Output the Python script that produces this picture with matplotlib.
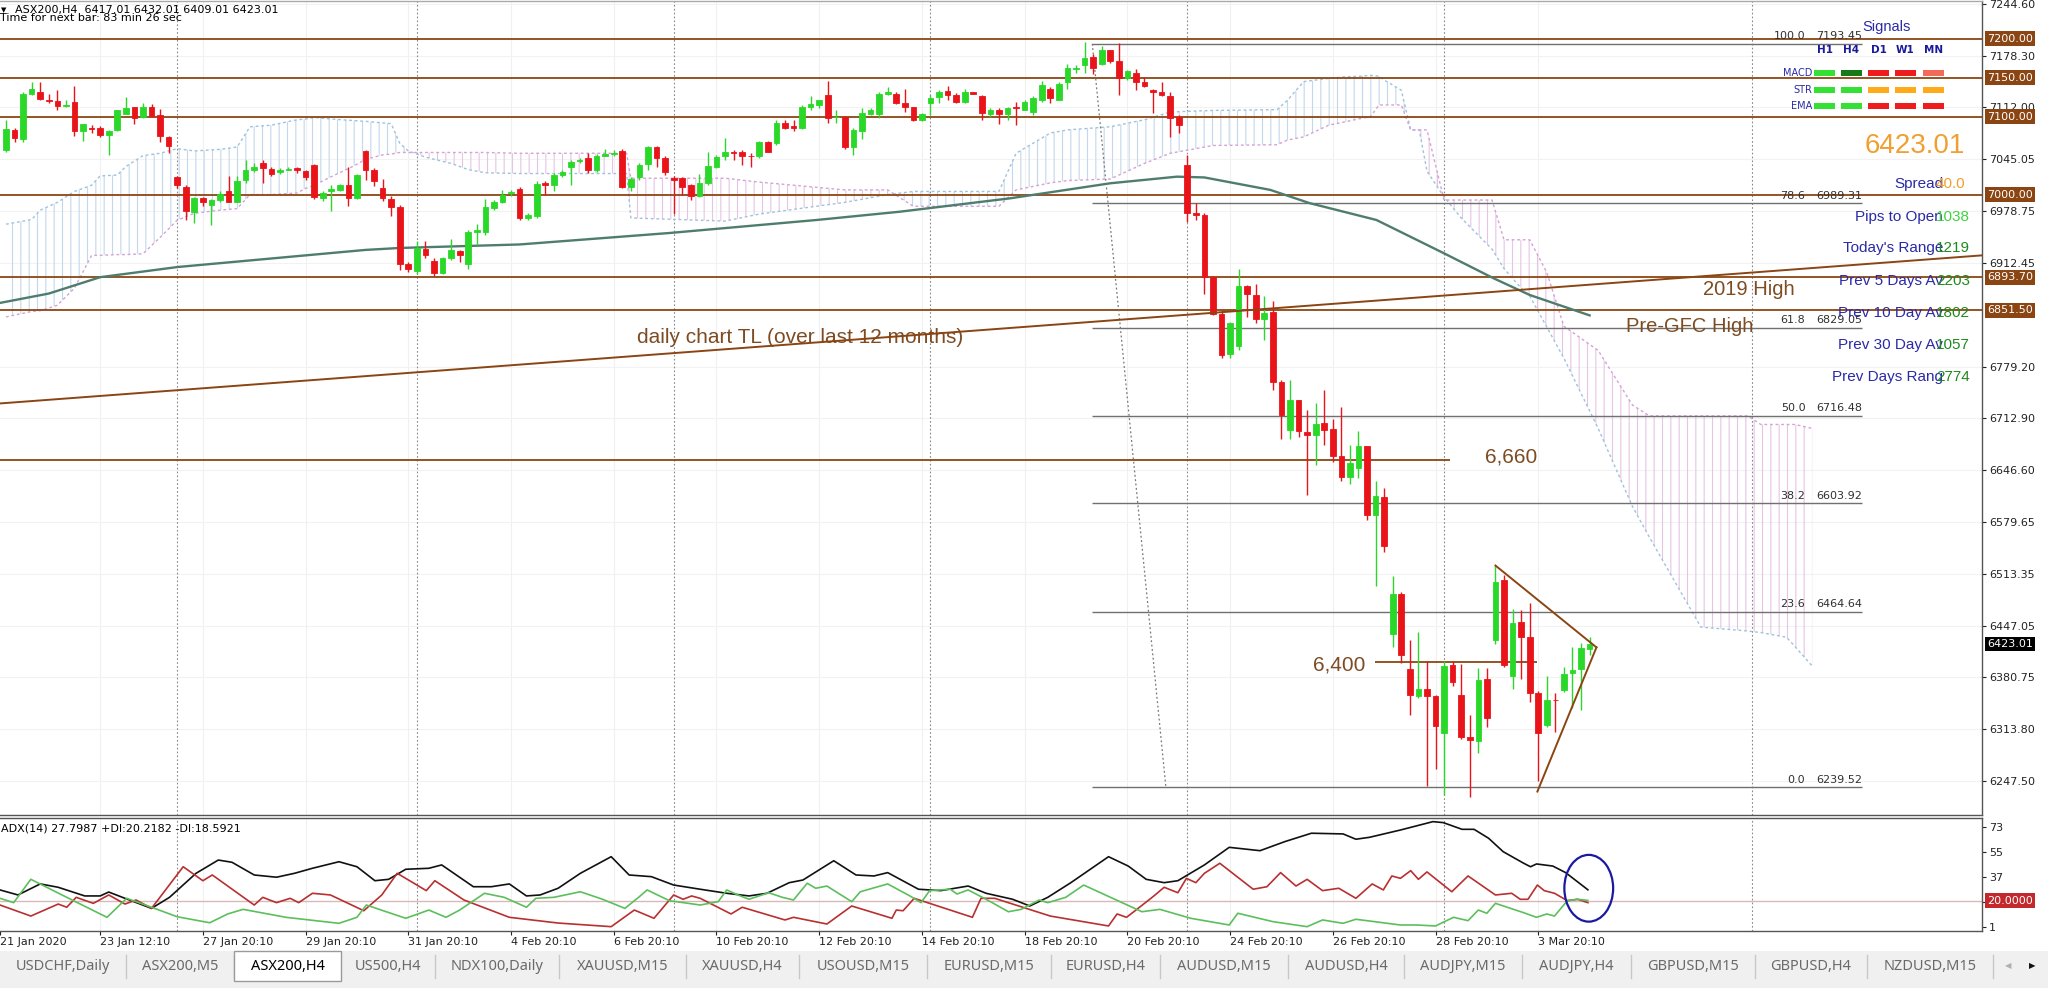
import matplotlib.pyplot as plt
import matplotlib.transforms as mtransforms
from matplotlib.patches import Ellipse, Rectangle
import numpy as np

plt.rcParams['font.family'] = ['DejaVu Sans']
plt.rcParams['hatch.linewidth'] = 0.8

# ASX200 H4 candles, bar 0 = 21 Jan 2020
opens = [7057, 7083, 7071, 7129, 7132, 7122, 7120, 7114, 7119, 7082,
         7085, 7085, 7076, 7083, 7104, 7112, 7099, 7113, 7102, 7074,
         7022, 7010, 6978, 6995, 6987, 6993, 7005, 6991, 7019, 7031,
         7040, 7033, 7029, 7032, 7034, 7030, 7038, 6996, 7004, 7006,
         7012, 6996, 7056, 7031, 7008, 6994, 6984, 6911, 6902, 6930,
         6915, 6899, 6918, 6928, 6911, 6952, 6952, 6983, 6991, 7002,
         7007, 6970, 6973, 7015, 7012, 7025, 7036, 7043, 7047, 7032,
         7050, 7052, 7056, 7010, 7022, 7039, 7061, 7047, 7021, 7021,
         7012, 6998, 7015, 7036, 7049, 7054, 7055, 7050, 7049, 7068,
         7066, 7092, 7088, 7085, 7113, 7115, 7128, 7099, 7100, 7061,
         7082, 7104, 7104, 7129, 7129, 7118, 7112, 7096, 7117, 7125,
         7133, 7128, 7119, 7131, 7127, 7104, 7109, 7104, 7112, 7109,
         7106, 7121, 7135, 7122, 7144, 7161, 7166, 7176, 7168, 7185,
         7172, 7149, 7156, 7145, 7134, 7131, 7127, 7099, 7038, 6977,
         6974, 6894, 6847, 6796, 6806, 6883, 6871, 6840, 6849, 6759,
         6698, 6736, 6695, 6692, 6707, 6699, 6664, 6637, 6649, 6677,
         6589, 6612, 6436, 6488, 6391, 6357, 6365, 6356, 6309, 6396,
         6358, 6304, 6299, 6378, 6429, 6506, 6382, 6451, 6432, 6361,
         6319, 6352, 6364, 6386, 6391, 6417.01]
highs = [7096, 7085, 7131, 7145, 7145, 7129, 7134, 7121, 7139, 7091,
         7089, 7088, 7083, 7109, 7125, 7113, 7117, 7116, 7110, 7075,
         7024, 7012, 6997, 6997, 6994, 7004, 7024, 7024, 7044, 7040,
         7044, 7035, 7034, 7035, 7036, 7032, 7039, 7004, 7012, 7014,
         7035, 7027, 7057, 7034, 7020, 6998, 6987, 6914, 6941, 6940,
         6918, 6920, 6943, 6929, 6954, 6962, 6994, 6993, 7006, 7006,
         7010, 6976, 7017, 7017, 7028, 7032, 7044, 7047, 7053, 7052,
         7059, 7057, 7059, 7022, 7041, 7062, 7062, 7049, 7024, 7023,
         7014, 7026, 7055, 7051, 7072, 7057, 7057, 7053, 7069, 7069,
         7096, 7096, 7096, 7115, 7126, 7121, 7146, 7108, 7101, 7085,
         7111, 7111, 7132, 7138, 7132, 7136, 7113, 7105, 7128, 7134,
         7139, 7130, 7136, 7131, 7128, 7111, 7111, 7113, 7119, 7121,
         7126, 7146, 7138, 7145, 7168, 7166, 7196, 7180, 7191, 7186,
         7194, 7160, 7161, 7151, 7136, 7144, 7132, 7102, 7051, 6989,
         6976, 6895, 6852, 6836, 6904, 6884, 6885, 6870, 6863, 6762,
         6762, 6737, 6723, 6733, 6749, 6712, 6728, 6679, 6697, 6678,
         6632, 6623, 6510, 6490, 6429, 6439, 6402, 6358, 6401, 6401,
         6398, 6332, 6392, 6392, 6525, 6512, 6468, 6467, 6476, 6363,
         6382, 6360, 6394, 6420, 6424, 6432.01]
lows = [7055, 7067, 7068, 7128, 7121, 7118, 7109, 7113, 7075, 7069,
        7079, 7074, 7051, 7081, 7103, 7090, 7098, 7100, 7068, 7053,
        7009, 6968, 6964, 6985, 6961, 6991, 6990, 6990, 7015, 7029,
        7015, 7024, 7026, 7031, 7028, 7019, 6994, 6992, 6979, 7004,
        6985, 6994, 7019, 7011, 6992, 6973, 6903, 6901, 6898, 6918,
        6895, 6898, 6916, 6914, 6904, 6935, 6948, 6980, 6989, 6998,
        6967, 6968, 6970, 6999, 7004, 7023, 7012, 7040, 7028, 7029,
        7049, 7049, 7008, 7004, 7019, 7032, 7036, 7025, 6975, 6999,
        6993, 6997, 7012, 7034, 7044, 7044, 7038, 7035, 7047, 7054,
        7064, 7084, 7082, 7084, 7109, 7111, 7092, 7092, 7059, 7051,
        7071, 7102, 7098, 7128, 7116, 7106, 7095, 7095, 7102, 7117,
        7121, 7118, 7118, 7129, 7096, 7100, 7091, 7096, 7089, 7108,
        7102, 7119, 7118, 7121, 7136, 7156, 7156, 7155, 7166, 7169,
        7128, 7147, 7134, 7138, 7105, 7126, 7074, 7079, 6965, 6967,
        6873, 6846, 6790, 6790, 6801, 6843, 6835, 6813, 6749, 6686,
        6687, 6689, 6615, 6653, 6679, 6657, 6632, 6629, 6636, 6583,
        6498, 6542, 6420, 6399, 6332, 6354, 6241, 6263, 6230, 6369,
        6302, 6227, 6283, 6317, 6423, 6394, 6365, 6379, 6349, 6247,
        6317, 6311, 6362, 6341, 6339, 6409.01]
closes = [7084, 7072, 7129, 7135, 7123, 7120, 7114, 7115, 7081, 7091,
          7084, 7076, 7082, 7109, 7111, 7098, 7112, 7101, 7075, 7062,
          7012, 6979, 6995, 6991, 6993, 7001, 6991, 7018, 7032, 7036,
          7034, 7027, 7032, 7033, 7031, 7023, 6997, 7002, 7007, 7012,
          6996, 7025, 7031, 7018, 6995, 6984, 6911, 6905, 6931, 6923,
          6899, 6918, 6929, 6923, 6952, 6954, 6984, 6990, 7000, 7003,
          6970, 6974, 7013, 7012, 7025, 7029, 7042, 7045, 7032, 7050,
          7052, 7053, 7010, 7020, 7038, 7061, 7047, 7029, 7019, 7010,
          6998, 7015, 7037, 7048, 7055, 7053, 7049, 7049, 7068, 7055,
          7092, 7085, 7086, 7113, 7116, 7121, 7098, 7100, 7061, 7083,
          7105, 7109, 7129, 7132, 7118, 7113, 7096, 7104, 7124, 7132,
          7128, 7119, 7131, 7129, 7105, 7109, 7104, 7111, 7111, 7119,
          7124, 7141, 7124, 7142, 7162, 7162, 7175, 7162, 7185, 7171,
          7149, 7158, 7145, 7139, 7131, 7128, 7098, 7089, 6977, 6974,
          6894, 6847, 6794, 6835, 6883, 6873, 6840, 6848, 6759, 6717,
          6736, 6696, 6692, 6706, 6698, 6664, 6637, 6656, 6677, 6589,
          6613, 6549, 6488, 6409, 6358, 6365, 6356, 6318, 6395, 6375,
          6304, 6300, 6377, 6328, 6503, 6396, 6450, 6432, 6360, 6309,
          6351, 6351, 6385, 6390, 6418, 6423.01]

# Ichimoku cloud, both spans read at the same bars
cloud_bar = [0, 3, 4, 6, 8, 10, 11, 13, 14, 16, 18, 20, 22, 25, 27, 28.5, 31,
             34, 35, 36, 38, 40.5, 42, 44, 45, 46, 47, 49, 52, 54, 56, 60, 72.5,
             73, 84, 88, 98, 103, 106, 116, 118, 122, 124, 129, 133, 136, 141,
             148.5, 149.7, 151.6, 154.5, 156.3, 158.4, 159.4, 160.4, 161, 163,
             164.1, 165.1, 166, 168, 170, 173.6, 175, 177, 178, 180, 182, 186,
             190, 192, 198, 203.5, 205, 208, 209, 211]
span_a = [6962, 6968, 6980, 6990, 7004, 7012, 7024, 7025, 7036, 7050, 7053,
          7059, 7056, 7058, 7061, 7087, 7089, 7096, 7097, 7099, 7097, 7095,
          7094, 7092, 7091, 7066, 7056, 7048, 7040, 7032, 7028, 7027, 7027,
          6970, 6966, 6975, 6990, 7000, 7004, 7004, 7053, 7079, 7083, 7087,
          7096, 7106, 7108, 7109, 7121, 7145, 7149, 7151, 7152, 7153, 7152,
          7147, 7134, 7083, 7083, 7030, 6997, 6970, 6930, 6905, 6880, 6870,
          6830, 6790, 6700, 6600, 6560, 6445, 6440, 6438, 6432, 6420, 6395]
span_b = [6843, 6850, 6851, 6858, 6880, 6922, 6922, 6923, 6923, 6924, 6945,
          6967, 6976, 6980, 6982, 7000, 7000, 7002, 7008, 7012, 7023, 7036,
          7045, 7051, 7052, 7054, 7054, 7054, 7054, 7054, 7054, 7053, 7053,
          7021, 7021, 7016, 7006, 7006, 6985, 6985, 7006, 7015, 7018, 7020,
          7040, 7053, 7063, 7064, 7070, 7074, 7089, 7093, 7098, 7100, 7115,
          7115, 7115, 7083, 7083, 7083, 6993, 6993, 6993, 6942, 6942, 6942,
          6900, 6831, 6800, 6730, 6716, 6716, 6716, 6705, 6705, 6705, 6700]

ma200 = [(-0.7, 6861), (5, 6873), (11, 6894), (20, 6907), (30, 6917),
         (42, 6929), (46, 6931.5), (60, 6936), (77.5, 6950.7), (94.7, 6967.4),
         (104.4, 6978), (117.3, 6995.2), (129, 7014.5), (136.8, 7023),
         (140, 7022), (147.7, 7006), (152.3, 6989), (160.1, 6967.4),
         (168, 6924.6), (173.8, 6892.5), (178, 6871.2), (185, 6845)]

levels = [7200.00, 7150.00, 7100.00, 7000.00, 6893.70, 6851.50]
fib_pct = ['100.0', '78.6', '61.8', '50.0', '38.2', '23.6', '0.0']
fib_price = [7193.45, 6989.31, 6829.05, 6716.48, 6603.92, 6464.64, 6239.52]
trend_line = [(-0.7, 6732), (230.84, 6922)]
wedge_upper = [(174, 6524), (185.8, 6419)]
wedge_lower = [(178.9, 6234), (185.8, 6419)]
fib_diag = [(126.9, 7193.45), (135.5, 6239.52)]

adx = [(-0.7, 27.7), (1.4, 24.1), (4.0, 32.0), (6.1, 29.6), (9.2, 23.4),
       (11.0, 23.4), (12.0, 26.2), (13.9, 21.7), (17.0, 14.5), (19.1, 22.4),
       (22.2, 39.6), (24.8, 49.1), (26.4, 47.5), (29.0, 38.4), (31.6, 36.8),
       (33.7, 39.6), (35.8, 43.2), (38.9, 47.9), (41.0, 44.3), (43.1, 34.3),
       (44.7, 35.3), (46.7, 42.5), (49.4, 43.2), (50.9, 45.6), (54.6, 30.0),
       (56.7, 30.0), (58.8, 32.0), (60.8, 23.4), (62.4, 24.1), (64.5, 28.9),
       (67.1, 39.6), (70.7, 51.5), (72.8, 38.4), (75.4, 37.2), (78.0, 31.2),
       (81.1, 28.2), (84.2, 25.3), (86.8, 23.4), (88.9, 25.3), (91.5, 32.9),
       (93.1, 34.8), (96.7, 48.6), (99.3, 38.4), (101.4, 37.7), (103.0, 40.1),
       (106.6, 28.2), (109.2, 27.2), (112.4, 30.5), (114.5, 25.3), (117.6, 21.0),
       (119.6, 16.2), (121.7, 22.4), (124.4, 32.9), (128.8, 51.5), (131.1, 44.8),
       (133.2, 35.3), (135.3, 32.9), (136.9, 34.3), (140.0, 45.6), (142.9, 58.2),
       (146.5, 55.8), (149.4, 62.3), (152.5, 68.3), (156.2, 67.8), (157.7, 64.0),
       (159.3, 65.4), (162.9, 70.6), (166.7, 76.6), (167.9, 75.9), (170.1, 71.1),
       (171.5, 71.1), (173.2, 64.7), (174.9, 55.1), (177.3, 46.8), (178.1, 44.3),
       (178.8, 46.3), (180.7, 44.8), (182.2, 40.1), (184.8, 27.8)]
minus_di = [(-0.7, 16.9), (2.9, 9.0), (6.1, 17.6), (7.1, 15.3), (8.2, 22.4),
            (10.2, 18.1), (12.0, 24.1), (13.9, 17.6), (15.2, 20.5), (17.0, 14.5),
            (20.7, 44.3), (23.0, 34.3), (24.1, 38.4), (29.0, 16.9), (30.0, 22.4),
            (31.6, 18.6), (33.2, 21.7), (34.2, 18.6), (35.8, 25.3), (37.9, 24.1),
            (41.8, 12.8), (43.9, 24.1), (45.7, 39.6), (49.1, 27.2), (50.1, 34.3),
            (53.5, 20.5), (58.8, 8.1), (64.5, 4.0), (70.7, 1.4), (73.4, 13.3),
            (75.7, 7.4), (78.0, 24.1), (79.1, 21.0), (80.1, 23.4), (81.1, 21.7),
            (84.7, 10.5), (86.0, 15.3), (91.0, 6.2), (92.0, 8.1), (95.9, 3.3),
            (98.8, 16.2), (103.5, 7.4), (104.0, 13.3), (104.8, 12.8), (106.1, 21.7),
            (112.9, 8.1), (113.9, 21.7), (115.5, 21.7), (122.0, 9.0), (128.8, 1.9),
            (129.8, 10.5), (130.9, 8.1), (131.9, 12.8), (134.0, 22.9), (135.3, 29.6),
            (136.9, 25.7), (137.9, 36.0), (139.0, 32.9), (140.0, 39.6), (141.8, 46.8),
            (145.7, 28.2), (147.3, 30.0), (148.9, 40.1), (150.7, 30.5), (152.0, 35.3),
            (153.8, 27.2), (155.7, 28.9), (157.7, 21.7), (159.6, 32.0), (160.9, 27.7),
            (161.9, 37.7), (162.9, 36.0), (164.1, 41.5), (165.0, 35.3), (166.0, 40.6),
            (168.9, 26.4), (170.8, 37.7), (174.0, 24.1), (175.9, 25.3), (176.9, 21.0),
            (177.8, 21.0), (178.9, 31.2), (179.7, 27.2), (180.9, 25.3), (182.4, 20.0),
            (183.6, 21.0), (184.8, 18.6)]
plus_di = [(-0.7, 21.7), (0.9, 18.6), (2.9, 35.3), (7.1, 22.4), (11.8, 8.1),
           (14.1, 21.7), (17.0, 15.3), (20.0, 8.5), (23.8, 4.2), (25.9, 10.5),
           (27.7, 13.8), (32.7, 8.1), (38.9, 3.8), (41.0, 8.1), (42.1, 16.9),
           (46.7, 7.4), (49.4, 13.3), (51.4, 8.1), (53.0, 13.3), (55.9, 25.3),
           (58.2, 22.4), (60.8, 15.3), (61.9, 21.7), (64.0, 22.4), (67.1, 26.4),
           (69.7, 21.0), (72.3, 14.5), (73.9, 22.4), (74.9, 27.7), (77.5, 20.0),
           (81.1, 16.9), (83.2, 19.3), (84.2, 27.7), (85.5, 24.1), (86.8, 21.0),
           (89.1, 25.7), (90.7, 22.4), (92.0, 20.5), (93.6, 32.5), (94.6, 28.9),
           (95.9, 30.5), (98.8, 19.3), (99.8, 26.4), (103.0, 32.0), (105.6, 23.4),
           (106.9, 18.6), (107.9, 27.2), (110.3, 28.2), (111.1, 24.8), (112.4, 27.7),
           (114.5, 21.0), (117.1, 12.1), (118.6, 13.8), (120.7, 20.5), (121.7, 18.6),
           (123.8, 22.4), (125.9, 31.2), (128.0, 25.3), (132.7, 12.1), (134.8, 13.8),
           (138.4, 7.4), (142.9, 2.6), (143.9, 11.0), (148.0, 5.0), (152.0, 1.4),
           (153.8, 6.2), (156.2, 3.8), (157.7, 6.7), (162.9, 2.6), (164.8, 2.6),
           (167.0, 1.9), (169.1, 8.1), (170.8, 5.7), (172.0, 13.3), (173.0, 11.0),
           (174.0, 18.1), (177.3, 11.4), (178.8, 8.1), (180.0, 10.5), (180.9, 9.0),
           (182.4, 20.0), (183.6, 21.0), (184.8, 20.2)]

time_bars = [-0.7, 11, 23, 35, 47, 59, 71, 83, 95, 107, 119, 131, 143, 155, 167, 179]
time_labels = ['21 Jan 2020', '23 Jan 12:10', '27 Jan 20:10', '29 Jan 20:10',
               '31 Jan 20:10', '4 Feb 20:10', '6 Feb 20:10', '10 Feb 20:10',
               '12 Feb 20:10', '14 Feb 20:10', '18 Feb 20:10', '20 Feb 20:10',
               '24 Feb 20:10', '26 Feb 20:10', '28 Feb 20:10', '3 Mar 20:10']
price_ticks = [7244.60, 7178.30, 7112.00, 7045.05, 6978.75, 6912.45, 6779.20,
               6712.90, 6646.60, 6579.65, 6513.35, 6447.05, 6380.75, 6313.80, 6247.50]
week_bars = [20, 48, 78, 108, 138, 168, 204]

sig_rows = ['MACD', 'STR', 'EMA']
sig_cols = ['H1', 'H4', 'D1', 'W1', 'MN']
sig_colors = [['#33e033', '#167a16', '#ee1c1c', '#ee1c1c', '#f26a5a'],
              ['#33e033', '#33e033', '#ffaa1a', '#ffaa1a', '#ffaa1a'],
              ['#33e033', '#33e033', '#ee1c1c', '#ee1c1c', '#ee1c1c']]
stat_labels = ['Spread', 'Pips to Open', "Today's Range", 'Prev 5 Days Av',
               'Prev 10 Day Av', 'Prev 30 Day Av', 'Prev Days Rang']
stat_values = ['40.0', '1038', '1219', '2203', '1802', '1057', '2774']
stat_colors = ['#f0a030', '#3fd43f', '#1f8a1f', '#1f8a1f', '#1f8a1f', '#1f8a1f', '#1f8a1f']

tabs = ['USDCHF,Daily', 'ASX200,M5', 'ASX200,H4', 'US500,H4', 'NDX100,Daily',
        'XAUUSD,M15', 'XAUUSD,H4', 'USOUSD,M15', 'EURUSD,M15', 'EURUSD,H4',
        'AUDUSD,M15', 'AUDUSD,H4', 'AUDJPY,M15', 'AUDJPY,H4', 'GBPUSD,M15',
        'GBPUSD,H4', 'NZDUSD,M15']

# layout (pixels of the 2048x988 canvas)
W, H = 2048, 988
tab_edges = [0, 126, 234, 341, 435, 559, 686, 799, 927, 1051, 1160, 1288,
             1404, 1522, 1631, 1755, 1867, 1993]
BROWN = '#8b4513'
TXT_BROWN = '#7d4c22'
NAVY = '#2a2aa8'


def fxy(x, y):
    return x / W, 1 - y / H


fig = plt.figure(figsize=(W / 100, H / 100), dpi=100)
fig.patch.set_facecolor('white')

ax = fig.add_axes([0, 1 - 815 / H, 1982 / W, 814 / H])
ax2 = fig.add_axes([0, 1 - 931 / H, 1982 / W, 113 / H])
XL = (-0.70, 230.84)
ax.set_xlim(XL)
ax.set_ylim(6203.9, 7248.4)
ax2.set_xlim(XL)
ax2.set_ylim(-1.7, 79.2)

for a in (ax, ax2):
    a.spines['left'].set_visible(False)
    for s in ('top', 'right', 'bottom'):
        a.spines[s].set_color('#555555')
        a.spines[s].set_linewidth(1.0)
    for wb in week_bars:
        a.axvline(wb, color='#888888', lw=0.8, ls=(0, (1.5, 2)), zorder=1)
    for tb in time_bars[1:]:
        a.axvline(tb, color='#f0f0f0', lw=0.8, zorder=0)
ax.spines['top'].set_color('#aaaaaa')
for pt in price_ticks:
    ax.axhline(pt, color='#f2f2f2', lw=0.8, zorder=0)

# Ichimoku cloud
cb = np.array(cloud_bar)
sa = np.array(span_a)
sb = np.array(span_b)
ax.fill_between(cb, sa, sb, where=sa >= sb, interpolate=True, facecolor='none',
                edgecolor='#c2d8ec', hatch='||', linewidth=0, zorder=1)
ax.fill_between(cb, sa, sb, where=sa < sb, interpolate=True, facecolor='none',
                edgecolor='#e6c4e6', hatch='||', linewidth=0, zorder=1)
ax.plot(cb, sa, color='#9fc2dc', lw=1, ls=(0, (2, 2)), zorder=2)
ax.plot(cb, sb, color='#d4a2d4', lw=1, ls=(0, (2, 2)), zorder=2)

# 200 MA
mx, my = zip(*ma200)
ax.plot(mx, my, color='#4f7d6d', lw=1.7, zorder=3)

# horizontal levels and drawn lines
for lv in levels:
    ax.axhline(lv, color=BROWN, lw=1.3, zorder=2)
ax.hlines(6660, XL[0], 168.7, color=BROWN, lw=1.3, zorder=2)
ax.hlines(6400, 159.9, 178.9, color=BROWN, lw=1.3, zorder=2)
for seg in (trend_line, wedge_upper, wedge_lower):
    sx, sy = zip(*seg)
    ax.plot(sx, sy, color=BROWN, lw=1.4, zorder=6)

# Fibonacci
for pct, fp in zip(fib_pct, fib_price):
    ax.hlines(fp, 126.9, 216.8, color='#707070', lw=1.0, zorder=2)
    ax.text(210.2, fp + 3, pct, ha='right', va='bottom', fontsize=8, color='#303030')
    ax.text(216.8, fp + 3, f'{fp:.2f}', ha='right', va='bottom', fontsize=8, color='#303030')
dx_, dy_ = zip(*fib_diag)
ax.plot(dx_, dy_, color='#777777', lw=0.9, ls=(0, (1.5, 2)), zorder=2)

# candles
o = np.array(opens)
h = np.array(highs)
l = np.array(lows)
c = np.array(closes)
xb = np.arange(len(o))
col = np.where(c >= o, '#29d829', '#e8141a')
ax.vlines(xb, l, h, colors=col, lw=1, zorder=4)
ax.bar(xb, c - o, bottom=o, width=0.66, color=col, edgecolor=col, linewidth=0.6, zorder=5)

# chart text
lbl = dict(family='Liberation Sans', color=TXT_BROWN, va='center', ha='left')
ax.text(73.7, 6817, 'daily chart TL (over last 12 months)', fontsize=15, **lbl)
ax.text(198.2, 6877.6, '2019 High', fontsize=14.5, **lbl)
ax.text(189.3, 6830.1, 'Pre-GFC High', fontsize=14.5, **lbl)
ax.text(172.8, 6663.3, '6,660', fontsize=15, **lbl)
ax.text(152.7, 6396.4, '6,400', fontsize=15, **lbl)

# price axis
ax.yaxis.tick_right()
ax.set_yticks(price_ticks, [f'{p:.2f}' for p in price_ticks])
ax.tick_params(axis='y', labelsize=8, length=3, pad=2, colors='#222222')
ax.tick_params(axis='x', bottom=False, labelbottom=False)
tr = mtransforms.blended_transform_factory(ax.transAxes, ax.transData)
for lv in levels:
    ax.text(1.0025, lv, f'{lv:.2f}', transform=tr, fontsize=8, color='white',
            va='center', ha='left', zorder=10,
            bbox=dict(facecolor=BROWN, edgecolor='none', pad=1.6))
ax.text(1.0025, 6423.01, '6423.01', transform=tr, fontsize=8, color='white',
        va='center', ha='left', zorder=10,
        bbox=dict(facecolor='black', edgecolor='none', pad=1.6))

# ADX window
ax2.axhline(20, color='#d8b8b8', lw=1, zorder=1)
for series, colr in ((adx, '#111111'), (minus_di, '#b83030'), (plus_di, '#5cbf5c')):
    sx, sy = zip(*series)
    ax2.plot(sx, sy, color=colr, lw=1.2, zorder=3)
ax2.add_patch(Ellipse((184.9, 28.9), 5.7, 47.8, fill=False, edgecolor='#1a1aa0', lw=1.6, zorder=5))
ax2.yaxis.tick_right()
ax2.set_yticks([73, 55, 37, 19, 1])
ax2.tick_params(axis='y', labelsize=8, length=3, pad=2, colors='#222222')
tr2 = mtransforms.blended_transform_factory(ax2.transAxes, ax2.transData)
ax2.text(1.0025, 20, '20.0000', transform=tr2, fontsize=8, color='white', va='center',
         ha='left', zorder=10, bbox=dict(facecolor='#c3282d', edgecolor='none', pad=1.6))
ax2.set_xticks(time_bars, time_labels)
ax2.tick_params(axis='x', labelsize=8, length=3, pad=1, colors='#222222')
for t in ax2.get_xticklabels():
    t.set_horizontalalignment('left')

# header texts
fig.text(*fxy(1, 10), '\u25bc', fontsize=5, va='center', ha='left')
fig.text(*fxy(15, 10), 'ASX200,H4  6417.01 6432.01 6409.01 6423.01', fontsize=8, va='center')
fig.text(*fxy(0, 18), 'Time for next bar: 83 min 26 sec', fontsize=8, va='center')
fig.text(*fxy(1, 828), 'ADX(14) 27.7987 +DI:20.2182 -DI:18.5921', fontsize=8, va='center')

# signals panel
fig.text(*fxy(1887, 27), 'Signals', fontsize=10.5, family='Liberation Sans',
         color=NAVY, ha='center', va='center')
col_x = [1814, 1841, 1868, 1895, 1923]
row_y = [73, 90, 106]
for cx, cname in zip(col_x, sig_cols):
    fig.text(*fxy(cx + 10.5, 50), cname, fontsize=7.5, fontweight='bold',
             color='#1a1a9c', ha='center', va='center')
for ry, rname, rcols in zip(row_y, sig_rows, sig_colors):
    fig.text(*fxy(1812, ry), rname, fontsize=7, color=NAVY, ha='right', va='center')
    for cx, cc in zip(col_x, rcols):
        x0, y0 = fxy(cx, ry + 3)
        fig.add_artist(Rectangle((x0, y0), 21 / W, 6 / H, transform=fig.transFigure,
                                 facecolor=cc, edgecolor='none'))
fig.text(*fxy(1915, 146), '6423.01', fontsize=20, family='Liberation Sans',
         color='#f0a030', ha='center', va='center')
stat_y = [184, 216.7, 248.3, 280.7, 312.7, 345, 376.7]
for sy_, sl, sv, sc in zip(stat_y, stat_labels, stat_values, stat_colors):
    fig.text(*fxy(1943, sy_), sl, fontsize=11, family='Liberation Sans',
             color=NAVY, ha='right', va='center')
    fig.text(*fxy(1936, sy_), sv, fontsize=11, family='Liberation Sans',
             color=sc, ha='left', va='center')

# tab bar
x0, y0 = fxy(0, 988)
fig.add_artist(Rectangle((x0, y0), 1, 37 / H, transform=fig.transFigure,
                         facecolor='#f0f0f0', edgecolor='none', zorder=1))
for i, name in enumerate(tabs):
    left, right = tab_edges[i], tab_edges[i + 1]
    active = name == 'ASX200,H4'
    if active:
        bx, by = fxy(left, 981)
        fig.add_artist(Rectangle((bx, by), (right - left) / W, 30 / H,
                                 transform=fig.transFigure, facecolor='white',
                                 edgecolor='#9a9a9a', lw=1, zorder=2))
    else:
        lx, ly0 = fxy(right, 978)
        _, ly1 = fxy(right, 955)
        fig.add_artist(plt.Line2D([lx, lx], [ly0, ly1], transform=fig.transFigure,
                                  color='#c8c8c8', lw=1, zorder=2))
    fig.text(*fxy((left + right) / 2, 966), name, fontsize=10.5, family='Noto Sans',
             color='black' if active else '#6a6a6a', ha='center', va='center', zorder=3)
fig.text(*fxy(2008, 966), '\u25c0', fontsize=6, color='#b0b0b0', ha='center', va='center')
fig.text(*fxy(2032, 966), '\u25b6', fontsize=6, color='#111111', ha='center', va='center')

fig.savefig('out.png', dpi=100)
